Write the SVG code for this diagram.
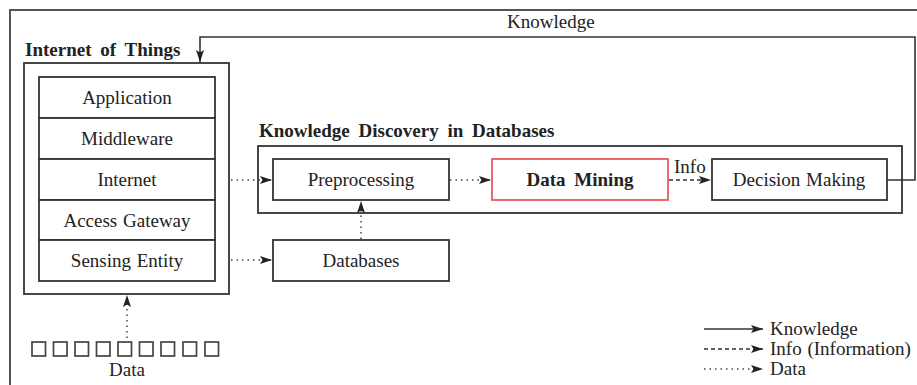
<svg xmlns="http://www.w3.org/2000/svg" width="917" height="385" viewBox="0 0 917 385">
<style>
text{font-family:"Liberation Serif","Times New Roman",serif;font-size:19px;fill:#222;word-spacing:1px}
.b{font-weight:bold;word-spacing:4px}
.m{text-anchor:middle}
.box{fill:#fff;stroke:#333;stroke-width:1.8}
.frame{fill:none;stroke:#555;stroke-width:2}
.k{fill:none;stroke:#333;stroke-width:1.6}
.d{fill:none;stroke:#444;stroke-width:1.5;stroke-dasharray:1.5 4}
.dash{fill:none;stroke:#333;stroke-width:1.5;stroke-dasharray:4 3}
</style>
<defs>
<marker id="ah" viewBox="0 0 12 8" refX="12" refY="4" markerWidth="12" markerHeight="8" markerUnits="userSpaceOnUse" orient="auto">
<path d="M0,0 L12,4 L0,8 L2.5,4 Z" fill="#222"/>
</marker>
</defs>
<rect width="917" height="385" fill="#fff"/>
<path class="frame" d="M10,385 V10 H917"/>

<g id="iot">
<text class="b" x="25" y="56">Internet of Things</text>
<rect class="box" x="24" y="63" width="205" height="231"/>
</g>
<g id="application"><rect class="box" x="39" y="77" width="176" height="41"/><text class="m" x="127" y="104">Application</text></g>
<g id="middleware"><rect class="box" x="39" y="118" width="176" height="41"/><text class="m" x="127" y="145">Middleware</text></g>
<g id="internet"><rect class="box" x="39" y="159" width="176" height="41"/><text class="m" x="127" y="186">Internet</text></g>
<g id="access-gateway"><rect class="box" x="39" y="200" width="176" height="40"/><text class="m" x="127" y="227">Access Gateway</text></g>
<g id="sensing-entity"><rect class="box" x="39" y="240" width="176" height="41"/><text class="m" x="127" y="267">Sensing Entity</text></g>

<g id="data">
<g fill="none" stroke="#444" stroke-width="1.7">
<rect x="32" y="342" width="13.5" height="14"/><rect x="53.5" y="342" width="13.5" height="14"/><rect x="75" y="342" width="13.5" height="14"/>
<rect x="96.5" y="342" width="13.5" height="14"/><rect x="118" y="342" width="13.5" height="14"/><rect x="139.5" y="342" width="13.5" height="14"/>
<rect x="161" y="342" width="13.5" height="14"/><rect x="183" y="342" width="13.5" height="14"/><rect x="205" y="342" width="13.5" height="14"/>
</g>
<text class="m" x="127" y="376">Data</text>
</g>

<g id="kdd">
<text class="b" x="259" y="137">Knowledge Discovery in Databases</text>
<rect class="box" x="258" y="146" width="644" height="67"/>
</g>
<g id="preprocessing"><rect class="box" x="273" y="159" width="176" height="41"/><text class="m" x="361" y="186">Preprocessing</text></g>
<g id="data-mining"><rect x="492" y="159" width="176" height="41" fill="#fff" stroke="#e85a5a" stroke-width="1.8"/><text class="m b" x="580" y="186">Data Mining</text></g>
<g id="decision-making"><rect class="box" x="712" y="159" width="175" height="41"/><text class="m" x="799" y="186">Decision Making</text></g>
<g id="databases"><rect class="box" x="273" y="240" width="176" height="41"/><text class="m" x="361" y="267">Databases</text></g>

<g id="connectors">
<path class="k" d="M887,180 H915 V37 H200 V62" marker-end="url(#ah)"/>
<text x="507" y="28">Knowledge</text>
<path class="d" d="M231,180 H272" marker-end="url(#ah)"/>
<path class="d" d="M231,260 H272" marker-end="url(#ah)"/>
<path class="d" d="M450,180 H491" marker-end="url(#ah)"/>
<path class="dash" d="M669,180 H711" marker-end="url(#ah)"/>
<text x="674" y="173">Info</text>
<path class="d" d="M361,239 V201" marker-end="url(#ah)"/>
<path class="d" d="M127,338 V295" marker-end="url(#ah)"/>
</g>

<g id="legend">
<path class="k" d="M704,329 H763" marker-end="url(#ah)"/>
<path class="dash" d="M704,349 H763" marker-end="url(#ah)"/>
<path class="d" d="M704,369 H763" marker-end="url(#ah)"/>
<text x="770" y="335">Knowledge</text>
<text x="770" y="355">Info (Information)</text>
<text x="770" y="375">Data</text>
</g>
</svg>
